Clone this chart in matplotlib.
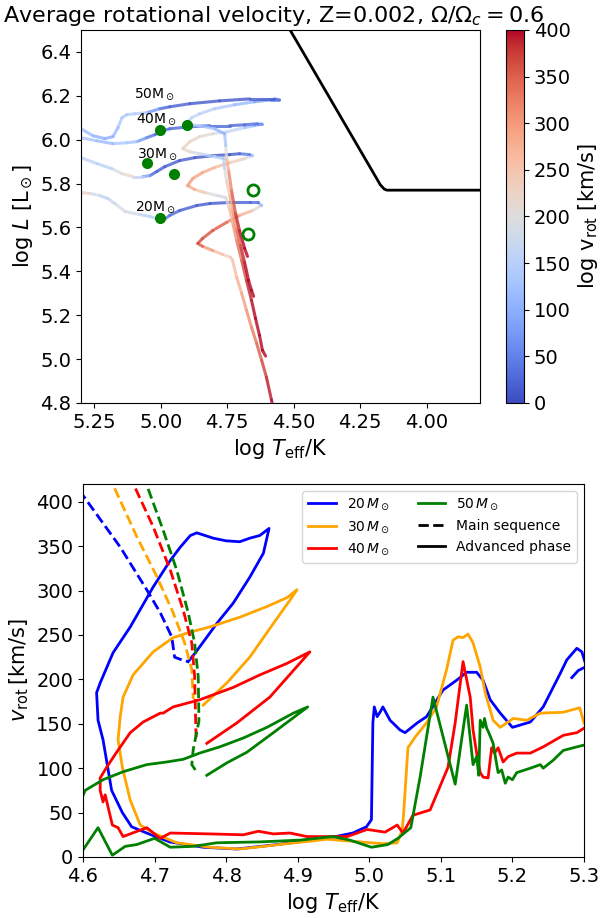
import numpy as np
import matplotlib
matplotlib.use("Agg")
import matplotlib.pyplot as plt
from matplotlib.collections import LineCollection
from matplotlib.colors import Normalize
from matplotlib.cm import ScalarMappable

# ---- HR diagram tracks (log Teff, log L, average v_rot in km/s) ----
t20_logT = [4.569, 4.584, 4.603, 4.621, 4.640, 4.659, 4.678, 4.696, 4.715, 4.730, 4.738,
            4.768, 4.805, 4.843, 4.861, 4.843, 4.805, 4.753, 4.704, 4.655, 4.621,
            4.636, 4.666, 4.741, 4.816, 4.865, 4.929, 4.966, 4.993, 5.004, 5.041, 5.079,
            5.135, 5.173, 5.199, 5.229, 5.266, 5.300, 5.322]
t20_logL = [4.732, 4.814, 4.918, 4.995, 5.073, 5.145, 5.223, 5.300, 5.373, 5.450, 5.464,
            5.477, 5.495, 5.514, 5.527, 5.550, 5.586, 5.623, 5.655, 5.677, 5.700,
            5.714, 5.714, 5.714, 5.709, 5.700, 5.677, 5.655, 5.632, 5.636, 5.650, 5.659,
            5.673, 5.709, 5.732, 5.745, 5.755, 5.759, 5.759]
t20_vrot = [410, 400, 385, 360, 340, 320, 300, 285, 270, 250, 225,
            240, 275, 330, 370, 362, 356, 350, 300, 240, 190,
            40, 28, 15, 10, 15, 22, 30, 42, 165, 150, 160,
            205, 185, 150, 160, 210, 225, 230]

t30_logT = [4.606, 4.618, 4.629, 4.644, 4.659, 4.678, 4.696, 4.715, 4.730, 4.745, 4.756,
            4.786, 4.835, 4.873, 4.899, 4.880, 4.843, 4.798, 4.741, 4.685, 4.655,
            4.666, 4.704, 4.741, 4.805, 4.873, 4.929, 4.985, 5.015, 5.041,
            5.068, 5.105, 5.146, 5.184, 5.240, 5.300, 5.322]
t30_logL = [5.014, 5.041, 5.109, 5.186, 5.268, 5.359, 5.450, 5.541, 5.623, 5.700, 5.736,
            5.745, 5.759, 5.773, 5.791, 5.823, 5.850, 5.873, 5.895, 5.914, 5.927,
            5.932, 5.936, 5.932, 5.927, 5.918, 5.905, 5.877, 5.855, 5.836,
            5.832, 5.832, 5.845, 5.868, 5.891, 5.918, 5.923]
t30_vrot = [430, 430, 420, 410, 395, 380, 350, 320, 290, 240, 178,
            185, 220, 270, 301, 295, 285, 270, 250, 215, 180,
            60, 20, 12, 10, 14, 18, 16, 15, 30,
            130, 190, 240, 150, 160, 155, 155]

t40_logT = [4.651, 4.659, 4.670, 4.685, 4.700, 4.715, 4.730, 4.741, 4.753, 4.760, 4.764,
            4.798, 4.854, 4.891, 4.918, 4.891, 4.854, 4.805, 4.753, 4.685, 4.648, 4.621,
            4.636, 4.685, 4.741, 4.816, 4.891, 4.966, 4.993, 5.022, 5.053, 5.090, 5.128,
            5.180, 5.240, 5.300, 5.322]
t40_logL = [5.286, 5.314, 5.359, 5.441, 5.518, 5.595, 5.677, 5.745, 5.814, 5.868, 5.914,
            5.923, 5.936, 5.945, 5.959, 5.991, 6.014, 6.027, 6.036, 6.055, 6.064, 6.073,
            6.073, 6.068, 6.064, 6.064, 6.059, 6.050, 6.041, 6.023, 6.009, 5.991, 5.986,
            5.982, 5.995, 6.009, 6.014]
t40_vrot = [430, 430, 420, 400, 370, 330, 290, 260, 220, 180, 135,
            140, 170, 205, 231, 225, 215, 205, 180, 150, 110, 85,
            40, 25, 25, 28, 25, 28, 32, 30, 45, 100, 160,
            110, 120, 140, 145]

t50_logT = [4.674, 4.685, 4.704, 4.719, 4.734, 4.745, 4.753, 4.756, 4.760,
            4.798, 4.854, 4.891, 4.906, 4.884, 4.854, 4.798, 4.723, 4.648, 4.584, 4.554,
            4.573, 4.666, 4.779, 4.891, 4.966, 5.004, 5.053, 5.098, 5.128, 5.146, 5.161,
            5.180, 5.210, 5.255, 5.300, 5.322]
t50_logL = [5.468, 5.505, 5.586, 5.664, 5.768, 5.859, 5.918, 5.973, 6.027,
            6.050, 6.064, 6.068, 6.073, 6.100, 6.118, 6.141, 6.159, 6.173, 6.182, 6.182,
            6.186, 6.186, 6.177, 6.164, 6.150, 6.141, 6.123, 6.118, 6.114, 6.100, 6.055,
            6.014, 6.005, 6.018, 6.050, 6.059]
t50_vrot = [430, 430, 400, 370, 340, 300, 250, 160, 100,
            110, 140, 160, 169, 165, 160, 150, 130, 100, 75, 50,
            15, 12, 12, 15, 20, 25, 120, 170, 120, 150, 130,
            100, 95, 110, 125, 125]

# Humphreys-Davidson limit
hd_logT = [4.562, 4.175, 4.160, 4.150, 3.700]
hd_logL = [6.600, 5.795, 5.775, 5.770, 5.770]

# markers on the HR diagram
dot_logT = [5.004, 4.903, 5.053, 4.951, 5.004]
dot_logL = [6.045, 6.068, 5.895, 5.845, 5.645]
ring_logT = [4.655, 4.674]
ring_logL = [5.773, 5.568]

track_labels = ["20M$_\\odot$", "30M$_\\odot$", "40M$_\\odot$", "50M$_\\odot$"]
label_logT = [5.098, 5.090, 5.094, 5.101]
label_logL = [5.677, 5.918, 6.077, 6.190]

# ---- v_rot vs log Teff ----
ms20_logT = [4.595, 4.601, 4.652, 4.689, 4.708, 4.724, 4.728, 4.738, 4.747]
ms20_v = [413, 406, 349, 301, 275, 248, 225, 222, 220]
adv20_logT = [4.747, 4.757, 4.787, 4.810, 4.833, 4.852, 4.860, 4.847, 4.833, 4.819, 4.800,
              4.782, 4.759, 4.750, 4.736, 4.722, 4.698, 4.666, 4.642, 4.624, 4.619, 4.621,
              4.628, 4.640, 4.655, 4.668, 4.689, 4.721, 4.768, 4.815, 4.871, 4.941, 4.977,
              4.996, 5.003, 5.005, 5.007, 5.011, 5.015, 5.019, 5.029, 5.043, 5.050, 5.067,
              5.080, 5.103, 5.122, 5.136, 5.150, 5.159, 5.169, 5.183, 5.200, 5.225, 5.243,
              5.267, 5.276, 5.290, 5.297, 5.302, np.nan, 5.283, 5.292, 5.302]
adv20_v = [220, 230, 263, 286, 315, 342, 370, 362, 359, 355, 356,
           359, 365, 362, 349, 334, 304, 259, 230, 196, 185, 154,
           132, 75, 50, 34, 27, 17, 11, 9, 14, 21, 27,
           34, 42, 151, 169, 158, 163, 169, 154, 143, 140, 151,
           158, 188, 199, 208, 208, 199, 177, 162, 146, 152, 169,
           207, 222, 235, 231, 218, np.nan, 202, 210, 214]

ms30_logT = [4.635, 4.642, 4.675, 4.703, 4.726, 4.742, 4.752, 4.754]
ms30_v = [430, 419, 361, 316, 275, 241, 211, 178]
adv30_logT = [4.768, 4.801, 4.833, 4.866, 4.889, 4.899, 4.885, 4.857, 4.819, 4.777, 4.749,
              4.726, 4.698, 4.670, 4.656, 4.652, 4.649, 4.655, 4.666, 4.680, 4.698, 4.731,
              4.777, 4.819, 4.885, 4.941, 4.987, 5.019, 5.039, 5.046, 5.048, 5.054, 5.064,
              5.080, 5.094, 5.108, 5.117, 5.124, 5.131, 5.138, 5.145, 5.155, 5.162, 5.173,
              5.183, 5.201, 5.220, 5.239, 5.271, 5.294, 5.300]
adv30_v = [171, 196, 225, 263, 289, 301, 292, 282, 270, 259, 253,
           247, 231, 205, 180, 158, 132, 101, 64, 36, 27, 16,
           11, 9, 15, 20, 17, 15, 16, 30, 49, 123, 135,
           151, 169, 211, 244, 248, 247, 251, 241, 214, 185, 154,
           146, 156, 154, 162, 163, 168, 151]

ms40_logT = [4.665, 4.671, 4.698, 4.722, 4.740, 4.752, 4.756, 4.757, 4.758]
ms40_v = [430, 419, 372, 323, 278, 241, 203, 166, 135]
adv40_logT = [4.773, 4.815, 4.861, 4.917, 4.885, 4.847, 4.810, 4.763, 4.726, 4.712, 4.708,
              4.684, 4.666, 4.647, 4.633, 4.624, 4.624, 4.628, 4.631, 4.641, 4.649, 4.656,
              4.689, 4.708, 4.722, 4.777, 4.824, 4.845, 4.866, 4.889, 4.913, 4.969, 4.997,
              5.022, 5.039, 5.047, 5.052, 5.061, 5.085, 5.110, 5.120, 5.131, 5.141, 5.145,
              5.150, 5.155, 5.159, 5.166, 5.171, 5.175, 5.180, 5.187, 5.194, 5.206, 5.225,
              5.243, 5.271, 5.290, 5.300]
adv40_v = [128, 151, 180, 231, 218, 205, 191, 177, 169, 162, 162,
           152, 140, 118, 101, 89, 75, 62, 70, 36, 33, 23,
           33, 21, 27, 26, 25, 29, 26, 27, 23, 23, 31,
           28, 36, 27, 34, 47, 53, 101, 151, 220, 180, 143,
           117, 95, 90, 89, 123, 117, 123, 107, 113, 117, 117,
           124, 137, 140, 145]

ms50_logT = [4.684, 4.689, 4.712, 4.731, 4.747, 4.756, 4.761, 4.762, 4.754, 4.752, 4.757]
ms50_v = [430, 419, 368, 323, 275, 241, 203, 153, 121, 104, 98]
adv50_logT = [4.773, 4.801, 4.829, 4.866, 4.914, 4.894, 4.857, 4.824, 4.791, 4.763, 4.740,
              4.717, 4.689, 4.656, 4.628, 4.603, 4.585, 4.600, 4.621, 4.641, 4.659, 4.675,
              4.700, 4.722, 4.754, 4.787, 4.847, 4.903, 4.949, 4.973, 5.003, 5.026, 5.040,
              5.058, 5.071, 5.080, 5.089, 5.120, 5.136, 5.145, 5.150, 5.153, 5.155, 5.159,
              5.161, 5.164, 5.167, 5.173, 5.180, 5.185, 5.190, 5.194, 5.200, 5.206, 5.225,
              5.239, 5.243, 5.257, 5.271, 5.290, 5.300]
adv50_v = [92, 106, 118, 140, 169, 162, 146, 134, 124, 117, 110,
           107, 104, 96, 87, 75, 40, 8, 33, 2, 12, 14,
           21, 11, 12, 16, 17, 19, 23, 19, 11, 14, 21,
           33, 90, 135, 180, 82, 171, 104, 113, 92, 154, 146,
           156, 145, 140, 128, 95, 98, 83, 90, 87, 95, 100,
           104, 100, 109, 120, 124, 126]

masses = ["20", "30", "40", "50"]
mass_colors = ["blue", "orange", "red", "green"]

plt.rcParams["font.size"] = 14

fig = plt.figure(figsize=(6.01, 9.18), dpi=100)
ax1 = fig.add_axes([81 / 601, 515 / 918, 399 / 601, 373 / 918])
cax = fig.add_axes([506 / 601, 515 / 918, 18 / 601, 373 / 918])
ax2 = fig.add_axes([83 / 601, 61 / 918, 501 / 601, 373 / 918])

norm = Normalize(vmin=0, vmax=400)
cmap = plt.get_cmap("coolwarm")


def colored_track(ax, x, y, v):
    pts = np.column_stack([x, y])
    segs = np.stack([pts[:-1], pts[1:]], axis=1)
    v = np.asarray(v, dtype=float)
    lc = LineCollection(segs, cmap=cmap, norm=norm, linewidths=2.2,
                        alpha=0.8, capstyle="round", joinstyle="round")
    lc.set_array(0.5 * (v[:-1] + v[1:]))
    ax.add_collection(lc)


colored_track(ax1, t20_logT, t20_logL, t20_vrot)
colored_track(ax1, t30_logT, t30_logL, t30_vrot)
colored_track(ax1, t40_logT, t40_logL, t40_vrot)
colored_track(ax1, t50_logT, t50_logL, t50_vrot)

ax1.plot(hd_logT, hd_logL, color="black", lw=2)
ax1.plot(dot_logT, dot_logL, "o", color="green", ms=7, zorder=3)
ax1.plot(ring_logT, ring_logL, "o", mfc="none", mec="green", mew=2, ms=8, zorder=3)
for lab, x, y in zip(track_labels, label_logT, label_logL):
    ax1.text(x, y, lab, fontsize=10, ha="left", va="baseline")

ax1.set_xlim(5.3, 3.8)
ax1.set_ylim(4.8, 6.5)
ax1.set_xticks([5.25, 5.0, 4.75, 4.5, 4.25, 4.0])
ax1.set_xlabel(r"$\log\,T_{\rm eff}/{\rm K}$", fontsize=15)
ax1.set_ylabel(r"$\log\,L\ [{\rm L_\odot}]$", fontsize=15)

cb = fig.colorbar(ScalarMappable(norm=norm, cmap=cmap), cax=cax)
cb.set_ticks(np.arange(0, 401, 50))
cb.set_label(r"log v$_{\rm rot}$ [km/s]", fontsize=15)

fig.text(3 / 601, 1 - 22 / 918,
         r"Average rotational velocity, Z=0.002, $\Omega/\Omega_c = 0.6$",
         fontsize=16, ha="left", va="baseline")

# v_rot against temperature
ms_data = [(ms20_logT, ms20_v), (ms30_logT, ms30_v), (ms40_logT, ms40_v), (ms50_logT, ms50_v)]
adv_data = [(adv20_logT, adv20_v), (adv30_logT, adv30_v), (adv40_logT, adv40_v), (adv50_logT, adv50_v)]
for (mx, mv), (ax_, av), c in zip(ms_data, adv_data, mass_colors):
    ax2.plot(mx, mv, "--", color=c, lw=2)
    ax2.plot(ax_, av, "-", color=c, lw=2)

handles = []
for m, c in zip(masses, mass_colors):
    handles.append(plt.Line2D([], [], color=c, lw=2, label=r"$%s\,M_\odot$" % m))
handles.append(plt.Line2D([], [], color="black", lw=2, ls="--", label="Main sequence"))
handles.append(plt.Line2D([], [], color="black", lw=2, label="Advanced phase"))
ax2.legend(handles=handles, ncol=2, loc="upper right", fontsize=10)

ax2.set_xlim(4.6, 5.3)
ax2.set_ylim(0, 420)
ax2.set_xticks(np.arange(4.6, 5.31, 0.1))
ax2.set_yticks(np.arange(0, 401, 50))
ax2.set_xlabel(r"$\log\,T_{\rm eff}/{\rm K}$", fontsize=15)
ax2.set_ylabel(r"$v_{\rm rot}\,[{\rm km/s}]$", fontsize=15)

fig.savefig("out.png", dpi=100)
